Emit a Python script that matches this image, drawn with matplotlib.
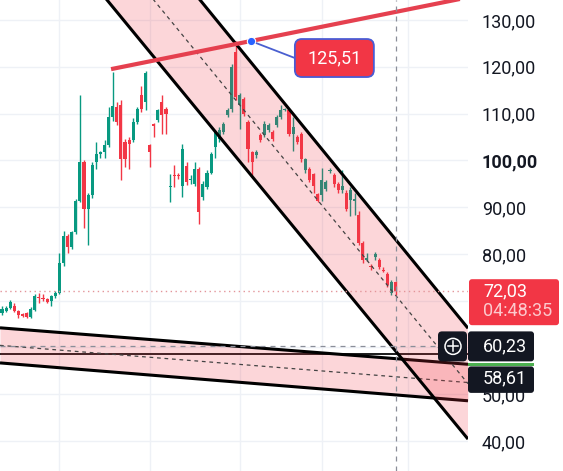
import matplotlib
matplotlib.use("Agg")
import matplotlib.pyplot as plt
from matplotlib.patches import FancyBboxPatch, Circle, Rectangle
import numpy as np

plt.rcParams['font.family'] = ['Roboto', 'DejaVu Sans']

# daily candles
opens = [67.4, 67.9, 68.5, 68.9, 67.9, 67.2, 67.3, 66.5, 68.1, 70.8,
         70.5, 70.4, 70.0, 70.9, 71.7, 78.1, 83.9, 81.4, 84.6, 91.4,
         99.6, 89.5, 92.5, 99.6, 101.3, 101.7, 103.2, 109.2, 111.4, 111.8,
         103.9, 104.3, 104.3, 108.1, 113.9, 112.4, 103.2, 107.7, 108.6, 112.4,
         110.9, 94.2, 96.8, 96.8, 94.6, 98.7, 95.7, 94.9, 98.1, 92.1,
         94.2, 97.4, 102.8, 104.5, 106.0, 109.6, 110.9, 123.1, 111.8, 113.1,
         108.1, 101.7, 101.1, 105.4, 105.4, 106.4, 106.0, 107.5, 109.2, 110.7,
         110.7, 105.6, 104.9, 105.6, 97.9, 98.1, 97.0, 92.7, 92.5, 93.8,
         97.7, 96.8, 94.9, 93.6, 93.1, 91.6, 91.4, 88.4, 82.4, 78.8,
         77.5, 79.4, 78.8, 76.6, 75.8, 71.7, 73.9]
highs = [68.9, 68.8, 70.2, 69.4, 68.1, 67.4, 67.6, 68.6, 71.4, 71.7,
         71.5, 70.6, 71.3, 72.0, 80.3, 84.8, 84.3, 85.0, 91.8, 114.0,
         100.0, 93.0, 99.6, 103.9, 102.1, 104.3, 111.4, 118.9, 112.4, 113.0,
         104.5, 105.0, 109.0, 111.4, 116.0, 119.0, 103.6, 108.0, 111.0, 113.9,
         111.4, 97.0, 99.1, 97.2, 103.4, 99.6, 96.8, 99.6, 98.5, 95.5,
         98.0, 101.7, 106.4, 107.1, 108.1, 111.2, 120.7, 125.5, 114.5, 113.5,
         108.6, 102.0, 102.2, 105.8, 108.4, 107.9, 106.4, 109.6, 111.9, 111.2,
         111.0, 109.2, 105.4, 106.0, 100.6, 98.5, 97.4, 93.1, 98.4, 95.7,
         98.3, 97.2, 95.3, 97.9, 93.6, 94.2, 93.1, 89.1, 82.8, 80.3,
         77.9, 80.5, 79.2, 77.1, 76.2, 74.5, 74.3]
lows = [67.0, 67.6, 68.3, 67.6, 66.4, 66.5, 66.3, 66.3, 67.8, 69.6,
        70.0, 69.5, 68.9, 70.6, 71.4, 77.5, 80.3, 81.0, 84.2, 91.0,
        85.6, 82.0, 92.0, 98.1, 100.6, 100.6, 102.8, 108.4, 107.5, 95.7,
        98.5, 98.1, 103.9, 107.7, 110.3, 110.7, 98.5, 104.9, 108.2, 105.6,
        105.6, 91.0, 94.2, 96.0, 92.1, 94.8, 94.9, 94.6, 86.3, 91.6,
        93.8, 97.0, 100.6, 103.9, 105.6, 109.2, 110.3, 112.8, 106.6, 109.4,
        99.6, 96.8, 100.6, 103.9, 105.0, 106.0, 104.1, 107.1, 108.8, 110.5,
        105.1, 102.1, 103.4, 99.6, 97.4, 95.3, 93.1, 91.0, 91.4, 93.4,
        97.4, 94.4, 93.1, 93.1, 89.1, 88.2, 88.4, 82.0, 78.1, 78.4,
        76.6, 78.6, 76.8, 76.1, 73.0, 71.3, 71.3]
closes = [68.3, 68.5, 69.8, 67.9, 67.0, 66.8, 66.6, 68.3, 71.1, 70.5,
          70.3, 69.8, 71.1, 71.7, 78.1, 83.9, 81.4, 84.6, 91.4, 99.6,
          89.5, 92.5, 99.1, 101.3, 101.7, 103.2, 109.2, 111.6, 108.1, 100.2,
          100.2, 103.4, 108.1, 110.9, 110.9, 118.6, 101.7, 107.3, 110.7, 109.6,
          109.9, 94.6, 96.6, 96.6, 102.4, 95.3, 95.9, 98.1, 88.9, 94.9,
          97.4, 101.3, 106.0, 106.4, 107.7, 110.7, 119.9, 113.5, 113.9, 109.9,
          102.4, 99.6, 101.7, 104.3, 107.7, 107.5, 104.5, 109.2, 110.7, 110.9,
          105.6, 107.1, 103.9, 100.2, 100.2, 95.7, 94.6, 91.4, 95.9, 95.3,
          97.9, 94.9, 93.6, 94.6, 89.5, 93.6, 91.8, 82.4, 78.6, 79.2,
          77.1, 79.9, 77.1, 76.4, 73.4, 74.1, 72.03]

price_ticks = [40, 50, 60, 70, 80, 90, 100, 110, 120, 130]
hidden_ticks = [60, 70]   # covered by the price-scale labels
month_starts = [14, 36, 58, 78, 99]

# drawing anchors as (bar index, price)
resistance = [(26.6, 119.5), (60.7, 125.51)]
down_left = [(25.6, 134.3), (113.2, 40.9)]
down_right = [(48.3, 134.3), (113.2, 64.6)]
flat_top = [(-0.5, 64.2), (113.7, 56.4)]
flat_bottom = [(-0.5, 56.7), (113.7, 48.6)]
level_price = 58.61
last_price = 72.03
cross_price = 60.23
cross_bar = 96
countdown = "04:48:35"

GREEN = '#089981'
RED = '#f23645'
INK = '#131722'

W, H = 563, 471
fig = plt.figure(figsize=(W / 100, H / 100), dpi=100)
ax = fig.add_axes([0, 0, 468 / W, 1])
x_lo, x_hi = -0.49, 113.66
ax.set_xlim(x_lo, x_hi)
ax.set_ylim(33.59, 134.28)


def line_at(pts, x):
    (x0, y0), (x1, y1) = pts
    return y0 + (y1 - y0) * (np.asarray(x, dtype=float) - x0) / (x1 - x0)


def fmt(v):
    return f"{v:.2f}".replace('.', ',')


xs = np.array([x_lo, x_hi])

# candles
idx = np.arange(len(opens))
o = np.array(opens)
c = np.array(closes)
cols = np.where(c >= o, GREEN, RED)
ax.vlines(idx, lows, highs, colors=cols, lw=1.0, zorder=2)
ax.bar(idx, np.maximum(np.abs(c - o), 0.25), bottom=np.minimum(o, c),
       width=0.74, color=cols, lw=0, zorder=2)

# horizontal level + flat channel
ax.axhline(level_price, color='#1a1a1a', lw=1.4, zorder=2.5)
ax.fill_between(xs, line_at(flat_top, xs), line_at(flat_bottom, xs),
                color=RED, alpha=0.2, lw=0, zorder=3)
for pts in (flat_top, flat_bottom):
    ax.plot(xs, line_at(pts, xs), color='black', lw=2.2, zorder=3.5,
            solid_capstyle='butt')
ax.plot(xs, (line_at(flat_top, xs) + line_at(flat_bottom, xs)) / 2,
        color='#444', lw=0.9, ls=(0, (3, 3)), zorder=3.5)

# falling channel
ax.fill_between(xs, line_at(down_left, xs), line_at(down_right, xs),
                color=RED, alpha=0.2, lw=0, zorder=4)
for pts in (down_left, down_right):
    ax.plot(xs, line_at(pts, xs), color='black', lw=2.2, zorder=5,
            solid_capstyle='butt')
ax.plot(xs, (line_at(down_left, xs) + line_at(down_right, xs)) / 2,
        color='#444', lw=0.9, ls=(0, (3, 3)), zorder=5)

# resistance ray
r0 = resistance[0]
ax.plot([r0[0], x_hi], [r0[1], line_at(resistance, x_hi)], color='#e5404f',
        lw=3, zorder=6, solid_capstyle='butt')

# crosshair and last price
ax.axvline(cross_bar, color='#8a8e99', lw=0.9, ls=(0, (4, 4)), zorder=8)
ax.axhline(cross_price, color='#8a8e99', lw=0.9, ls=(0, (4, 4)), zorder=8)
ax.axhline(last_price, color='#e3959a', lw=1, ls=(0, (1, 2.5)), zorder=8)

# axes styling
ax.set_yticks(price_ticks,
              labels=['' if v in hidden_ticks else fmt(v) for v in price_ticks])
ax.set_xticks(month_starts, labels=[])
ax.yaxis.tick_right()
ax.tick_params(axis='both', length=0)
ax.tick_params(axis='y', pad=10, labelsize=13, labelcolor=INK)
for lbl in ax.get_yticklabels():
    if lbl.get_text() == '100,00':
        lbl.set_fontweight('bold')
ax.grid(color='#eef1f6', lw=1, zorder=0)
ax.set_axisbelow(True)
for s in ax.spines.values():
    s.set_visible(False)

# overlay in pixel space for the price-scale labels
ov = fig.add_axes([0, 0, 1, 1])
ov.set_xlim(0, W)
ov.set_ylim(H, 0)
ov.axis('off')


def to_px(x, p):
    X, Y = ax.transData.transform((x, p))
    return X, H - Y


# resistance label
dx, dy = to_px(*resistance[1])
ov.plot([dx, dx + 44], [dy, dy + 17], color='#4a5fd0', lw=1.3, zorder=1)
ov.add_patch(FancyBboxPatch((dx + 44, dy - 2), 79, 38,
                            boxstyle='round,pad=0,rounding_size=7',
                            fc=RED, ec='#4a5bd4', lw=1.3, zorder=2))
ov.text(dx + 83.5, dy + 17, fmt(resistance[1][1]), color='white',
        fontsize=13, ha='center', va='center', zorder=3)
ov.plot(dx, dy, 'o', ms=6, mfc='#2962ff', mec='white', mew=0.8, zorder=4)

# last price label
_, yl = to_px(0, last_price)
ov.add_patch(FancyBboxPatch((469, yl - 12), 90, 46,
                            boxstyle='round,pad=0,rounding_size=3',
                            fc=RED, ec='none'))
ov.text(483, yl, fmt(last_price), color='white', fontsize=13, va='center')
ov.text(483, yl + 20, countdown, color='#fcc9cd', fontsize=13, va='center')

# crosshair label with plus button
_, yc = to_px(0, cross_price)
ov.add_patch(FancyBboxPatch((438, yc - 15), 29, 30,
                            boxstyle='round,pad=0,rounding_size=4',
                            fc=INK, ec='none'))
ov.add_patch(FancyBboxPatch((468, yc - 15), 66, 30,
                            boxstyle='round,pad=0,rounding_size=3',
                            fc=INK, ec='none'))
ov.add_patch(Circle((453, yc), 8, fc='none', ec='white', lw=1.1))
ov.plot([448, 458], [yc, yc], color='white', lw=1.1)
ov.plot([453, 453], [yc - 5, yc + 5], color='white', lw=1.1)
ov.text(483, yc, fmt(cross_price), color='white', fontsize=13, va='center')

# level label
ov.add_patch(Rectangle((468, yc + 16.5), 66, 3, fc='#4caf50', ec='none'))
ov.add_patch(FancyBboxPatch((468, yc + 20), 66, 26.5,
                            boxstyle='round,pad=0,rounding_size=3',
                            fc=INK, ec='none'))
ov.text(483, yc + 32, fmt(level_price), color='white', fontsize=13,
        va='center')

fig.savefig("out.png", dpi=100)
